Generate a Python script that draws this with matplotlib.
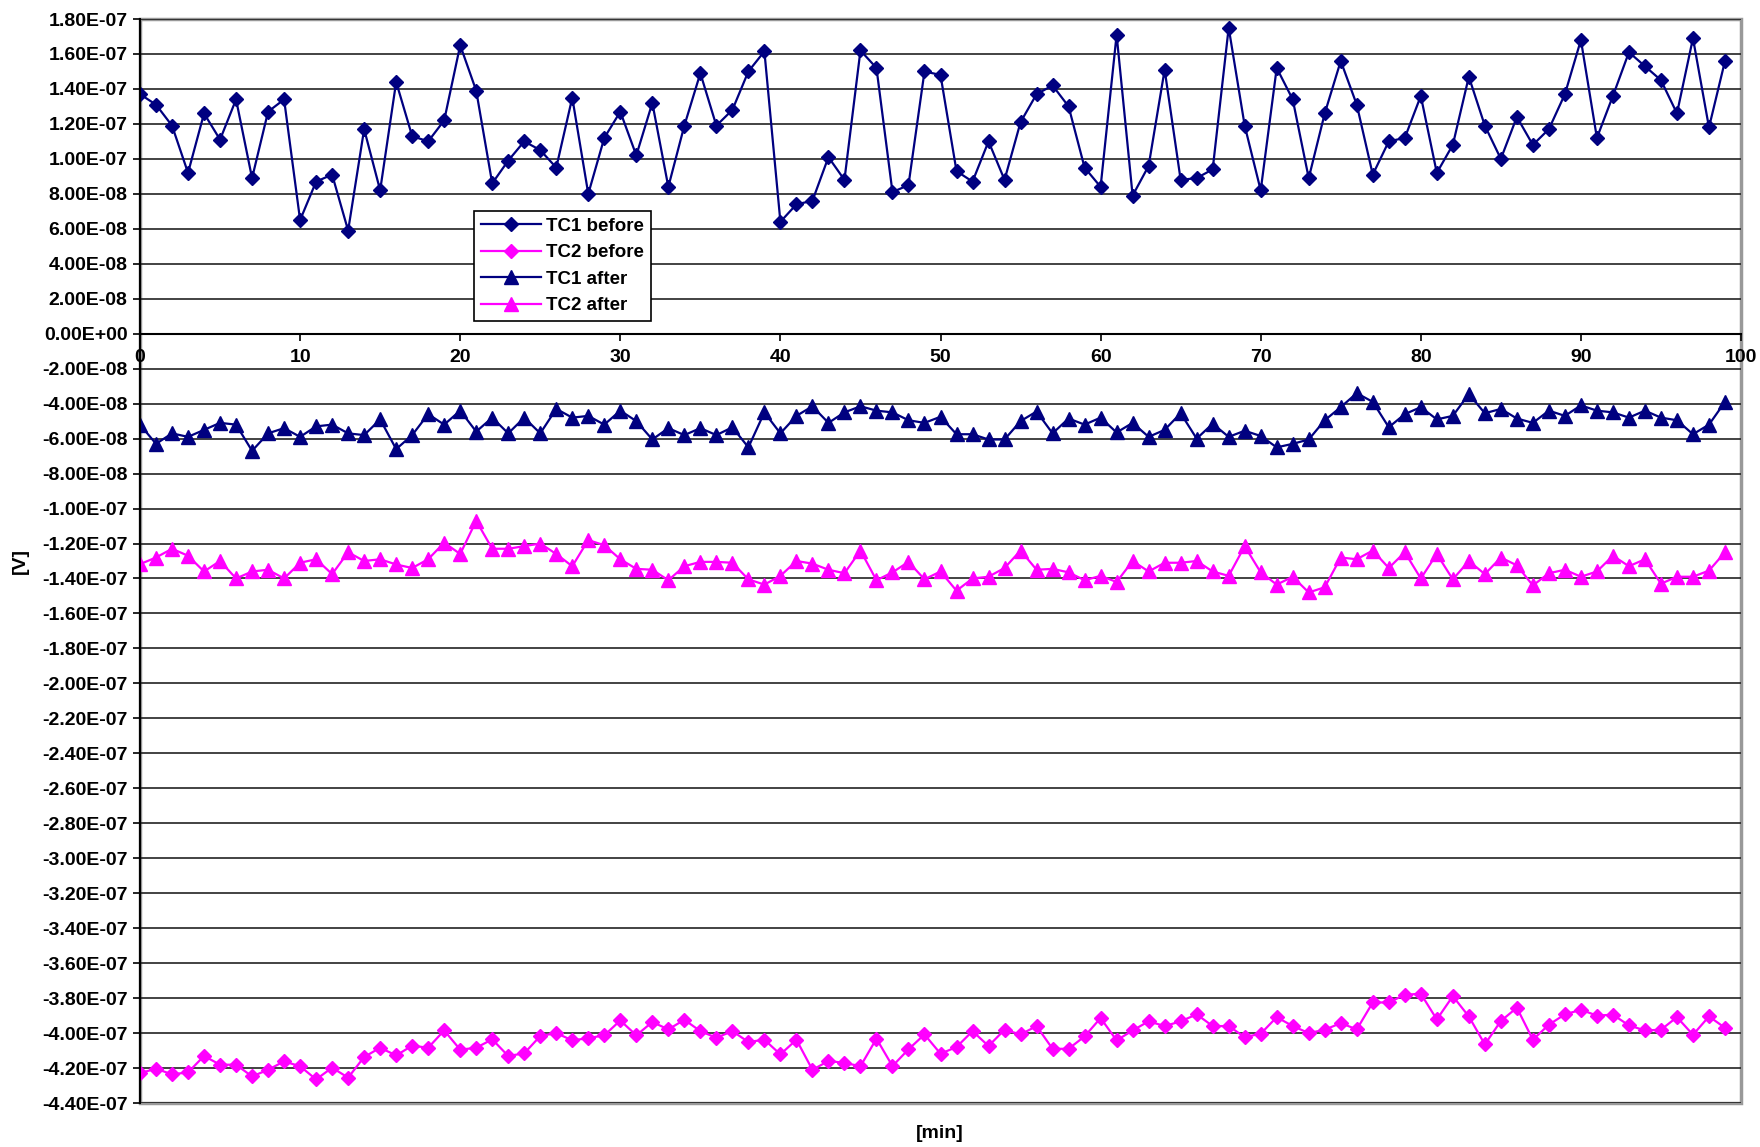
import numpy as np
import matplotlib
matplotlib.use('Agg')
import matplotlib.pyplot as plt
from matplotlib.patches import Rectangle
from matplotlib.ticker import FuncFormatter

minutes = list(range(100))

# values in units of 1E-07 V
tc1_before = [1.37, 1.31, 1.19, 0.92, 1.26, 1.11, 1.34, 0.89, 1.27, 1.34,
              0.65, 0.87, 0.91, 0.59, 1.17, 0.82, 1.44, 1.13, 1.10, 1.22,
              1.65, 1.39, 0.86, 0.99, 1.10, 1.05, 0.95, 1.35, 0.80, 1.12,
              1.27, 1.02, 1.32, 0.84, 1.19, 1.49, 1.19, 1.28, 1.50, 1.615,
              0.64, 0.74, 0.76, 1.01, 0.88, 1.62, 1.52, 0.81, 0.85, 1.50,
              1.48, 0.93, 0.87, 1.10, 0.88, 1.21, 1.37, 1.42, 1.30, 0.95,
              0.84, 1.71, 0.79, 0.96, 1.51, 0.88, 0.89, 0.94, 1.75, 1.19,
              0.82, 1.52, 1.34, 0.89, 1.26, 1.56, 1.31, 0.91, 1.10, 1.12,
              1.36, 0.92, 1.08, 1.47, 1.19, 1.00, 1.24, 1.08, 1.17, 1.37,
              1.68, 1.12, 1.36, 1.61, 1.53, 1.45, 1.26, 1.69, 1.18, 1.56]

tc2_before = [-4.229, -4.204, -4.236, -4.225, -4.131, -4.181, -4.181, -4.248, -4.210, -4.162,
              -4.190, -4.265, -4.198, -4.255, -4.137, -4.084, -4.128, -4.072, -4.084, -3.985,
              -4.095, -4.084, -4.036, -4.131, -4.116, -4.017, -4.000, -4.042, -4.029, -4.013,
              -3.928, -4.013, -3.937, -3.979, -3.924, -3.989, -4.027, -3.989, -4.051, -4.038,
              -4.122, -4.038, -4.210, -4.160, -4.170, -4.190, -4.032, -4.189, -4.093, -4.008,
              -4.118, -4.080, -3.989, -4.074, -3.981, -4.008, -3.960, -4.090, -4.090, -4.019,
              -3.914, -4.042, -3.985, -3.933, -3.960, -3.933, -3.893, -3.960, -3.960, -4.023,
              -4.004, -3.909, -3.960, -4.000, -3.981, -3.943, -3.979, -3.825, -3.825, -3.781,
              -3.775, -3.922, -3.789, -3.905, -4.065, -3.931, -3.855, -4.038, -3.952, -3.893,
              -3.867, -3.900, -3.895, -3.956, -3.985, -3.981, -3.909, -4.010, -3.905, -3.970]

tc1_after = [-0.52, -0.63, -0.57, -0.59, -0.55, -0.51, -0.52, -0.67, -0.57, -0.54,
             -0.59, -0.53, -0.52, -0.57, -0.58, -0.49, -0.66, -0.58, -0.46, -0.52,
             -0.44, -0.56, -0.48, -0.57, -0.48, -0.57, -0.43, -0.48, -0.47, -0.52,
             -0.44, -0.50, -0.605, -0.54, -0.58, -0.54, -0.58, -0.535, -0.65, -0.45,
             -0.57, -0.47, -0.415, -0.51, -0.45, -0.415, -0.44, -0.45, -0.495, -0.51,
             -0.475, -0.575, -0.575, -0.605, -0.605, -0.50, -0.445, -0.57, -0.485, -0.52,
             -0.48, -0.565, -0.51, -0.59, -0.55, -0.455, -0.60, -0.515, -0.59, -0.555,
             -0.585, -0.65, -0.63, -0.605, -0.495, -0.42, -0.34, -0.39, -0.535, -0.46,
             -0.42, -0.49, -0.47, -0.345, -0.455, -0.43, -0.485, -0.51, -0.44, -0.47,
             -0.41, -0.44, -0.45, -0.48, -0.44, -0.48, -0.495, -0.575, -0.52, -0.39]

tc2_after = [-1.318, -1.28, -1.23, -1.27, -1.36, -1.30, -1.40, -1.36, -1.35, -1.40,
             -1.31, -1.29, -1.375, -1.25, -1.30, -1.29, -1.32, -1.34, -1.29, -1.195,
             -1.26, -1.07, -1.23, -1.23, -1.215, -1.20, -1.26, -1.33, -1.18, -1.21,
             -1.29, -1.345, -1.35, -1.41, -1.33, -1.305, -1.305, -1.31, -1.405, -1.435,
             -1.385, -1.30, -1.315, -1.35, -1.37, -1.24, -1.41, -1.365, -1.305, -1.405,
             -1.36, -1.47, -1.40, -1.39, -1.34, -1.24, -1.35, -1.345, -1.365, -1.41,
             -1.385, -1.42, -1.30, -1.36, -1.31, -1.31, -1.30, -1.36, -1.385, -1.215,
             -1.365, -1.435, -1.39, -1.48, -1.45, -1.28, -1.29, -1.24, -1.34, -1.25,
             -1.40, -1.26, -1.405, -1.30, -1.375, -1.28, -1.325, -1.44, -1.37, -1.35,
             -1.39, -1.36, -1.27, -1.33, -1.29, -1.43, -1.39, -1.39, -1.355, -1.25]

x_ticks = [0, 10, 20, 30, 40, 50, 60, 70, 80, 90, 100]

navy = '#000080'
magenta = '#FF00FF'

plt.rcParams['font.family'] = ['Liberation Sans', 'DejaVu Sans']
plt.rcParams['font.weight'] = 'bold'

fig = plt.figure(figsize=(17.6, 11.47), dpi=100)
ax = fig.add_axes([140 / 1760, 1 - 1103 / 1147, (1741 - 140) / 1760, (1103 - 19) / 1147])

scale = 1e-7
ax.plot(minutes, np.array(tc1_before) * scale, color=navy, lw=1.6, marker='D', ms=7.2, label='TC1 before')
ax.plot(minutes, np.array(tc2_before) * scale, color=magenta, lw=1.6, marker='D', ms=7.2, label='TC2 before')
ax.plot(minutes, np.array(tc1_after) * scale, color=navy, lw=1.6, marker='^', ms=9.5, label='TC1 after')
ax.plot(minutes, np.array(tc2_after) * scale, color=magenta, lw=1.6, marker='^', ms=9.5, label='TC2 after')

ax.set_xlim(0, 100)
ax.set_ylim(-4.4e-7, 1.8e-7)
ax.set_yticks(np.arange(-44, 19, 2) * 1e-8)
ax.set_xticks(x_ticks)


def sci_label(v, pos):
    if abs(v) < 1e-12:
        v = 0.0
    return f'{v:.2E}'


ax.yaxis.set_major_formatter(FuncFormatter(sci_label))
ax.yaxis.grid(True, color='#222222', lw=1.2)
ax.set_axisbelow(True)

ax.spines['bottom'].set_position(('data', 0))
ax.spines['bottom'].set_color('black')
ax.spines['bottom'].set_linewidth(1.5)
ax.spines['left'].set_linewidth(1.5)
ax.spines['top'].set_visible(False)
ax.spines['right'].set_visible(False)
ax.add_patch(Rectangle((0, 0), 1, 1, transform=ax.transAxes, fill=False,
                       edgecolor='#999999', lw=2.5, clip_on=False, zorder=0.5))

ax.tick_params(axis='y', length=5, width=1.2, direction='out', labelsize=14, pad=4)
ax.tick_params(axis='x', length=5, width=1.2, direction='out', labelsize=14, pad=6)
for lab in ax.get_xticklabels() + ax.get_yticklabels():
    lab.set_fontweight('bold')

fig.text(0.534, 1 - 1134 / 1147, '[min]', ha='center', va='center', fontsize=14, fontweight='bold')
fig.text(20 / 1760, 1 - 561 / 1147, '[V]', ha='center', va='center', rotation=90, fontsize=14, fontweight='bold')

leg = ax.legend(loc='upper left', bbox_to_anchor=(474 / 1760, 1 - 211 / 1147), bbox_transform=fig.transFigure,
                fancybox=False, framealpha=1, edgecolor='black', handlelength=3.2, handletextpad=0.3,
                labelspacing=0.5, borderpad=0.35, borderaxespad=0, prop={'size': 13.5, 'weight': 'bold'})
leg.get_frame().set_linewidth(1.2)

plt.savefig('out.png', dpi=100)
plt.close()
